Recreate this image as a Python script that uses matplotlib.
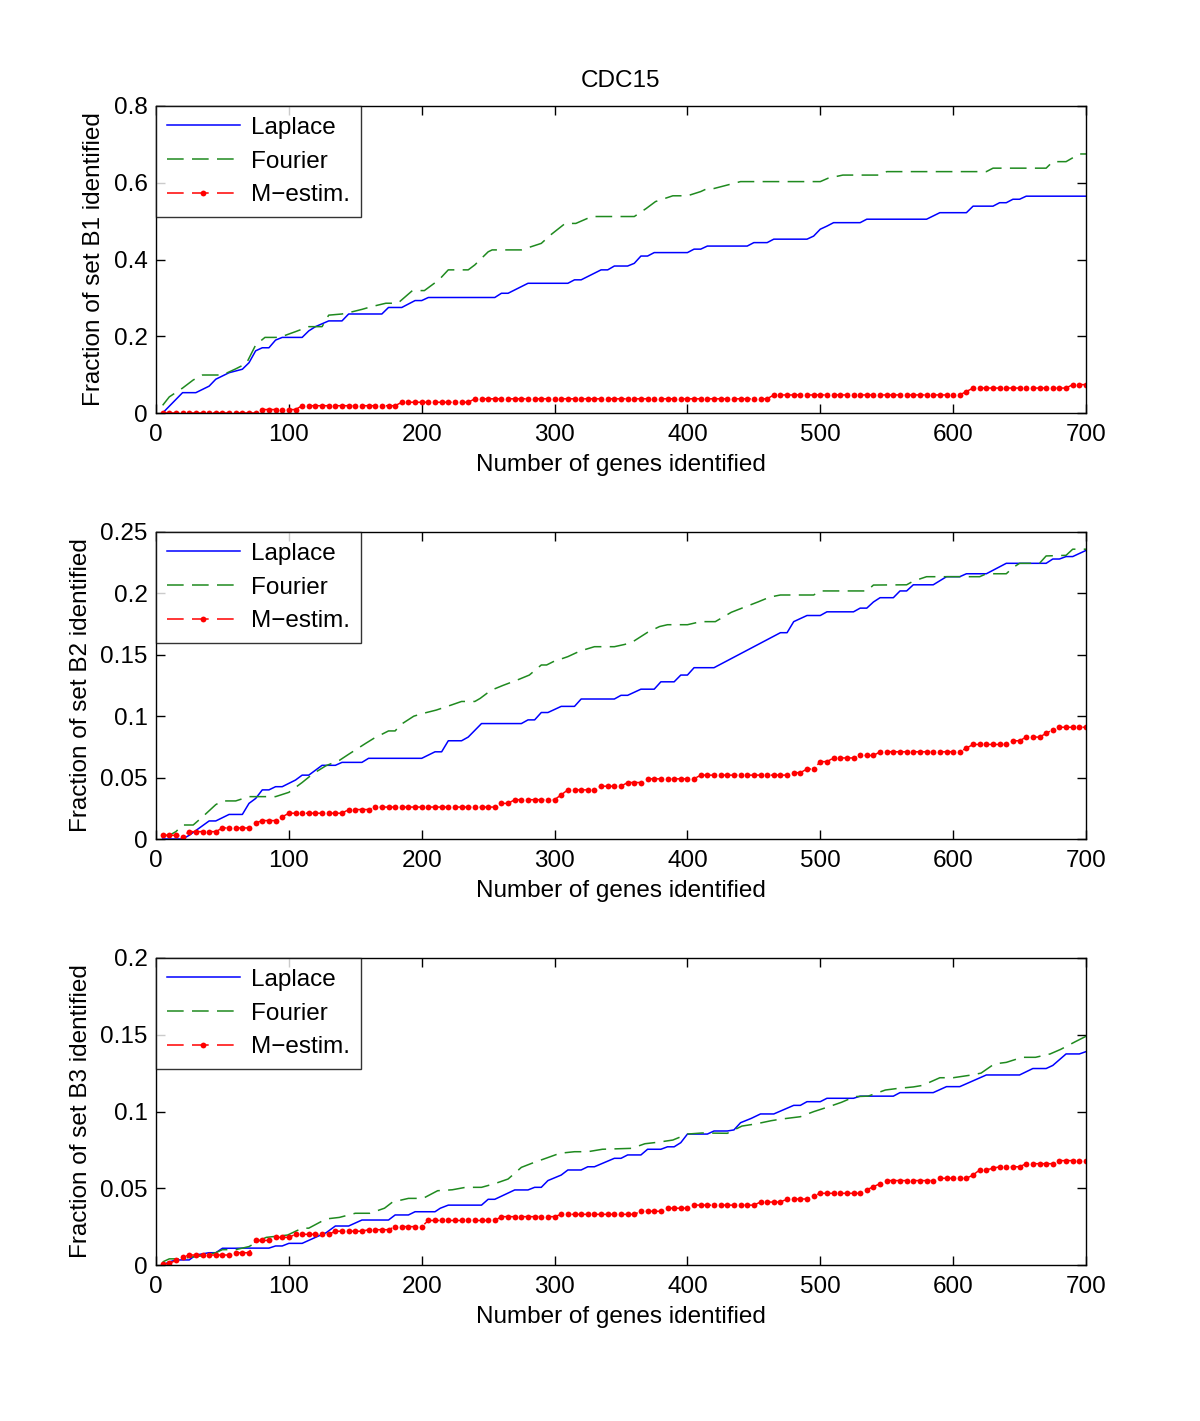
import numpy as np
import matplotlib
matplotlib.use("Agg")
import matplotlib.pyplot as plt
from matplotlib.ticker import FuncFormatter, MultipleLocator

plt.rcParams['font.family'] = ['Liberation Sans', 'DejaVu Sans']
plt.rcParams['lines.scale_dashes'] = False

# genes identified (every 5 genes), used for the M-estim. curves
genes = np.arange(5, 701, 5)

# ---- set B1 ----
laplace_b1 = [(5, 0), (20, 0.053), (30, 0.053), (40, 0.070), (45, 0.088), (55, 0.105), (65, 0.114),
              (70, 0.131), (75, 0.162), (80, 0.170), (85, 0.170), (90, 0.190), (95, 0.197), (110, 0.197),
              (115, 0.214), (120, 0.225), (130, 0.240), (140, 0.240), (145, 0.258), (170, 0.258),
              (175, 0.275), (185, 0.275), (195, 0.293), (200, 0.293), (205, 0.301), (255, 0.301),
              (260, 0.312), (265, 0.312), (280, 0.338), (310, 0.338), (315, 0.347), (320, 0.347),
              (335, 0.373), (340, 0.373), (345, 0.383), (355, 0.383), (360, 0.390), (365, 0.409),
              (370, 0.409), (375, 0.418), (400, 0.418), (405, 0.427), (410, 0.427), (415, 0.435),
              (445, 0.435), (450, 0.444), (460, 0.444), (465, 0.453), (490, 0.453), (495, 0.461),
              (500, 0.479), (505, 0.487), (510, 0.496), (530, 0.496), (535, 0.505), (580, 0.505),
              (590, 0.522), (610, 0.522), (615, 0.539), (630, 0.539), (635, 0.548), (640, 0.548),
              (645, 0.557), (650, 0.557), (655, 0.565), (700, 0.565)]
fourier_b1 = [(5, 0.020), (10, 0.042), (20, 0.065), (28, 0.086), (35, 0.099), (50, 0.099), (60, 0.115),
              (68, 0.129), (75, 0.177), (82, 0.197), (93, 0.197), (105, 0.212), (115, 0.225),
              (125, 0.225), (130, 0.255), (140, 0.258), (148, 0.264), (155, 0.270), (162, 0.277),
              (173, 0.286), (182, 0.286), (193, 0.319), (202, 0.319), (213, 0.347), (220, 0.373),
              (235, 0.373), (240, 0.386), (250, 0.420), (253, 0.425), (275, 0.425), (290, 0.442),
              (297, 0.464), (308, 0.494), (316, 0.494), (328, 0.512), (360, 0.512), (369, 0.533),
              (376, 0.551), (389, 0.566), (400, 0.566), (410, 0.577), (415, 0.585), (420, 0.585),
              (440, 0.603), (500, 0.603), (506, 0.612), (517, 0.620), (545, 0.620), (550, 0.629),
              (625, 0.629), (630, 0.638), (670, 0.638), (675, 0.655), (685, 0.655), (695, 0.675),
              (700, 0.675)]
mest_b1 = [0, 0, 0, 0, 0, 0, 0, 0, 0, 0, 0, 0, 0, 0, 0,
           0.009, 0.009, 0.009, 0.009, 0.009, 0.009,
           0.019, 0.019, 0.019, 0.019, 0.019, 0.019, 0.019, 0.019, 0.019, 0.019, 0.019, 0.019, 0.019, 0.019, 0.019,
           0.028, 0.028, 0.028, 0.028, 0.028, 0.028, 0.028, 0.028, 0.028, 0.028, 0.028,
           0.037, 0.037, 0.037, 0.037, 0.037, 0.037, 0.037, 0.037, 0.037, 0.037, 0.037, 0.037, 0.037, 0.037, 0.037,
           0.037, 0.037, 0.037, 0.037, 0.037, 0.037, 0.037, 0.037, 0.037, 0.037, 0.037, 0.037, 0.037, 0.037, 0.037,
           0.037, 0.037, 0.037, 0.037, 0.037, 0.037, 0.037, 0.037, 0.037, 0.037, 0.037, 0.037, 0.037, 0.037, 0.037,
           0.047, 0.047, 0.047, 0.047, 0.047, 0.047, 0.047, 0.047, 0.047, 0.047, 0.047, 0.047, 0.047, 0.047, 0.047,
           0.047, 0.047, 0.047, 0.047, 0.047, 0.047, 0.047, 0.047, 0.047, 0.047, 0.047, 0.047, 0.047, 0.047,
           0.056,
           0.065, 0.065, 0.065, 0.065, 0.065, 0.065, 0.065, 0.065, 0.065, 0.065, 0.065, 0.065, 0.065, 0.065, 0.065,
           0.074, 0.074, 0.074]

# ---- set B2 ----
laplace_b2 = [(5, 0), (20, 0), (25, 0.003), (40, 0.0147), (45, 0.0147), (55, 0.020), (65, 0.020),
              (70, 0.029), (75, 0.033), (80, 0.040), (85, 0.040), (90, 0.0426), (95, 0.0426), (105, 0.048),
              (110, 0.052), (115, 0.052), (120, 0.056), (125, 0.060), (135, 0.060), (140, 0.0624),
              (155, 0.0624), (160, 0.0657), (200, 0.0657), (210, 0.071), (215, 0.071), (220, 0.080),
              (230, 0.080), (235, 0.083), (245, 0.094), (275, 0.094), (280, 0.097), (285, 0.097),
              (290, 0.103), (295, 0.103), (305, 0.108), (315, 0.108), (320, 0.114), (345, 0.114),
              (350, 0.117), (355, 0.117), (365, 0.122), (375, 0.122), (380, 0.128), (390, 0.128),
              (395, 0.1335), (400, 0.1335), (405, 0.1395), (420, 0.1395), (470, 0.168), (475, 0.168),
              (480, 0.177), (490, 0.182), (500, 0.182), (505, 0.185), (525, 0.185), (530, 0.188),
              (535, 0.188), (540, 0.193), (545, 0.1965), (555, 0.1965), (560, 0.202), (565, 0.202),
              (570, 0.207), (585, 0.207), (595, 0.2136), (605, 0.2136), (610, 0.216), (625, 0.216),
              (640, 0.2245), (670, 0.2245), (675, 0.228), (680, 0.228), (685, 0.230), (690, 0.230),
              (700, 0.235)]
fourier_b2 = [(5, 0.0027), (10, 0.003), (15, 0.006), (20, 0.0114), (28, 0.0114), (35, 0.018), (45, 0.028),
              (50, 0.031), (60, 0.031), (70, 0.0345), (90, 0.0345), (100, 0.038), (110, 0.046),
              (118, 0.053), (128, 0.0597), (138, 0.064), (145, 0.069), (158, 0.078), (164, 0.082),
              (175, 0.088), (180, 0.088), (184, 0.093), (194, 0.100), (200, 0.102), (211, 0.105),
              (222, 0.109), (230, 0.112), (240, 0.112), (244, 0.1145), (252, 0.121), (261, 0.125),
              (272, 0.1295), (281, 0.1335), (290, 0.1417), (294, 0.1417), (299, 0.1444), (310, 0.1485),
              (319, 0.153), (330, 0.1566), (345, 0.1566), (353, 0.1585), (359, 0.1607), (370, 0.1683),
              (379, 0.173), (385, 0.1745), (400, 0.1745), (410, 0.177), (421, 0.177), (433, 0.1846),
              (441, 0.188), (453, 0.193), (462, 0.197), (470, 0.1987), (495, 0.1987), (500, 0.202),
              (535, 0.202), (540, 0.2068), (565, 0.207), (570, 0.210), (580, 0.2136), (620, 0.2136),
              (625, 0.216), (640, 0.216), (645, 0.221), (650, 0.2245), (665, 0.2245), (670, 0.2305),
              (685, 0.231), (690, 0.236), (700, 0.236)]
mest_b2 = [0.003, 0.003, 0.003, 0.002,
           0.006, 0.006, 0.006, 0.006, 0.006,
           0.009, 0.009, 0.009, 0.009, 0.009,
           0.013,
           0.015, 0.015, 0.015,
           0.018,
           0.021, 0.021, 0.021, 0.021, 0.021, 0.021, 0.021, 0.021, 0.021,
           0.024, 0.024, 0.024, 0.024,
           0.026, 0.026, 0.026, 0.026, 0.026, 0.026, 0.026, 0.026, 0.026, 0.026,
           0.026, 0.026, 0.026, 0.026, 0.026, 0.026, 0.026, 0.026, 0.026,
           0.029, 0.029,
           0.032, 0.032, 0.032, 0.032, 0.032, 0.032, 0.032,
           0.036,
           0.040, 0.040, 0.040, 0.040, 0.040,
           0.043, 0.043, 0.043, 0.043,
           0.046, 0.046, 0.046,
           0.049, 0.049, 0.049, 0.049, 0.049, 0.049, 0.049, 0.049,
           0.052, 0.052, 0.052, 0.052, 0.052, 0.052, 0.052, 0.052, 0.052, 0.052, 0.052, 0.052, 0.052, 0.052,
           0.054, 0.054,
           0.057, 0.057,
           0.063, 0.063,
           0.066, 0.066, 0.066, 0.066,
           0.068, 0.068, 0.068,
           0.071, 0.071, 0.071, 0.071, 0.071, 0.071, 0.071, 0.071, 0.071, 0.071, 0.071, 0.071, 0.071,
           0.074,
           0.077, 0.077, 0.077, 0.077, 0.077, 0.077,
           0.080, 0.080,
           0.083, 0.083, 0.083,
           0.086,
           0.089,
           0.091, 0.091, 0.091, 0.091, 0.091]

# ---- set B3 ----
laplace_b3 = [(5, 0), (10, 0.002), (15, 0.0033), (25, 0.0033), (30, 0.0065), (40, 0.008), (45, 0.008),
              (50, 0.0109), (60, 0.0109), (65, 0.011), (85, 0.011), (90, 0.0124), (95, 0.0124),
              (100, 0.0141), (110, 0.0141), (120, 0.018), (128, 0.021), (135, 0.0254), (145, 0.0254),
              (155, 0.0293), (175, 0.0293), (180, 0.0326), (190, 0.0326), (195, 0.0347), (210, 0.0347),
              (214, 0.037), (220, 0.039), (245, 0.039), (250, 0.0428), (255, 0.0428), (270, 0.0489),
              (280, 0.0489), (285, 0.0506), (290, 0.0506), (295, 0.055), (305, 0.0586), (310, 0.0619),
              (320, 0.0619), (325, 0.064), (330, 0.064), (345, 0.0695), (350, 0.0695), (355, 0.0717),
              (365, 0.0717), (370, 0.0754), (380, 0.0754), (385, 0.077), (390, 0.077), (395, 0.0797),
              (400, 0.0853), (415, 0.0853), (420, 0.0873), (430, 0.0873), (435, 0.088), (440, 0.0927),
              (448, 0.0955), (455, 0.0984), (465, 0.0984), (480, 0.104), (485, 0.104), (490, 0.1064),
              (500, 0.1064), (505, 0.1086), (525, 0.1086), (530, 0.110), (555, 0.110), (560, 0.1123),
              (585, 0.1123), (595, 0.1162), (605, 0.1162), (615, 0.120), (625, 0.1238), (650, 0.1238),
              (660, 0.128), (670, 0.128), (675, 0.130), (685, 0.1375), (695, 0.1375), (700, 0.139)]
fourier_b3 = [(5, 0.002), (10, 0.004), (20, 0.004), (25, 0.005), (35, 0.006), (45, 0.008), (50, 0.010),
              (60, 0.010), (70, 0.012), (78, 0.016), (83, 0.018), (99, 0.0195), (110, 0.024), (115, 0.024),
              (128, 0.030), (138, 0.031), (150, 0.0337), (161, 0.0337), (172, 0.037), (178, 0.041),
              (190, 0.0434), (201, 0.0434), (212, 0.0484), (223, 0.049), (233, 0.0506), (245, 0.0506),
              (255, 0.053), (265, 0.056), (275, 0.0636), (283, 0.0663), (295, 0.070), (304, 0.0728),
              (315, 0.0738), (325, 0.0738), (336, 0.0754), (358, 0.076), (368, 0.079), (378, 0.080),
              (389, 0.0814), (400, 0.0853), (411, 0.086), (430, 0.0858), (441, 0.0905), (452, 0.092),
              (463, 0.094), (470, 0.095), (485, 0.0966), (495, 0.0999), (506, 0.103), (516, 0.106),
              (526, 0.1097), (536, 0.110), (549, 0.114), (558, 0.115), (570, 0.116), (577, 0.117),
              (590, 0.122), (600, 0.122), (614, 0.1238), (621, 0.125), (631, 0.131), (640, 0.132),
              (652, 0.1353), (662, 0.1353), (673, 0.1375), (681, 0.1405), (692, 0.1455), (700, 0.149)]
mest_b3 = [0.0005, 0.001, 0.003, 0.005,
           0.0065, 0.0065, 0.0065, 0.0065, 0.0065, 0.0065, 0.0065,
           0.008, 0.008, 0.008,
           0.016, 0.016, 0.016,
           0.018, 0.018, 0.018,
           0.020, 0.020, 0.020, 0.020, 0.020, 0.020,
           0.022, 0.022, 0.022, 0.022, 0.022,
           0.023, 0.023, 0.023, 0.023,
           0.025, 0.025, 0.025, 0.025, 0.025,
           0.029, 0.029, 0.029, 0.029, 0.029, 0.029, 0.029, 0.029, 0.029, 0.029, 0.029,
           0.0315, 0.0315, 0.0315, 0.0315, 0.0315, 0.0315, 0.0315, 0.0315, 0.0315,
           0.033, 0.033, 0.033, 0.033, 0.033, 0.033, 0.033, 0.033, 0.033, 0.033, 0.033, 0.033,
           0.035, 0.035, 0.035, 0.035,
           0.037, 0.037, 0.037, 0.037,
           0.039, 0.039, 0.039, 0.039, 0.039, 0.039, 0.039, 0.039, 0.039, 0.039,
           0.041, 0.041, 0.041, 0.041,
           0.043, 0.043, 0.043, 0.043,
           0.045,
           0.0467, 0.0467, 0.0467, 0.0467, 0.0467, 0.0467, 0.0467,
           0.049,
           0.051,
           0.053,
           0.055, 0.055, 0.055, 0.055, 0.055, 0.055, 0.055, 0.055,
           0.0565, 0.0565, 0.0565, 0.0565, 0.0565,
           0.0586,
           0.062, 0.062,
           0.063,
           0.064, 0.064, 0.064, 0.064,
           0.066, 0.066, 0.066, 0.066, 0.066,
           0.068, 0.068, 0.068, 0.068, 0.068]

panels = [
    ("B1", laplace_b1, fourier_b1, mest_b1, 0.8, 0.2),
    ("B2", laplace_b2, fourier_b2, mest_b2, 0.25, 0.05),
    ("B3", laplace_b3, fourier_b3, mest_b3, 0.2, 0.05),
]

FS = 17.5
fig = plt.figure(figsize=(12, 14.21), dpi=100)
bottoms = [1 - 413 / 1421, 1 - 839 / 1421, 1 - 1265 / 1421]
fmt = FuncFormatter(lambda v, p: "%g" % round(v, 4))

for (name, lap, fou, mest, ymax, ystep), b in zip(panels, bottoms):
    ax = fig.add_axes([156 / 1200, b, 930 / 1200, 307 / 1421])
    lx, ly = zip(*lap)
    fx, fy = zip(*fou)
    ax.plot(lx, ly, color='#0000ff', lw=1.1, label='Laplace')
    ax.plot(fx, fy, color='#1f8a1f', lw=1.1, dashes=(12, 6), label='Fourier')
    ax.plot(genes, mest, color='#ff0000', lw=1.1, dashes=(12, 6), marker='o',
            markersize=4.2, markeredgewidth=0, label='M\u2212estim.')
    ax.set_xlim(0, 700)
    ax.set_ylim(0, ymax)
    ax.xaxis.set_major_locator(MultipleLocator(100))
    ax.yaxis.set_major_locator(MultipleLocator(ystep))
    ax.xaxis.set_major_formatter(fmt)
    ax.yaxis.set_major_formatter(fmt)
    ax.tick_params(direction='in', length=6.5, width=1, labelsize=FS, top=True, right=True)
    ax.tick_params(axis='x', pad=8)
    ax.tick_params(axis='y', pad=6)
    for s in ax.spines.values():
        s.set_linewidth(1)
    ax.set_xlabel('Number of genes identified', fontsize=FS, labelpad=5.5)
    ax.set_ylabel('Fraction of set %s identified' % name, fontsize=FS, labelpad=6)
    leg = ax.legend(loc='upper left', borderaxespad=0, fontsize=FS, numpoints=1, fancybox=False,
                    handlelength=3.0, handletextpad=0.45, borderpad=0.45, labelspacing=0.48)
    leg.get_frame().set_edgecolor('black')
    leg.get_frame().set_linewidth(1)
    if name == "B1":
        ax.set_title('CDC15', fontsize=FS, pad=14)

fig.savefig('out.png', dpi=100)
